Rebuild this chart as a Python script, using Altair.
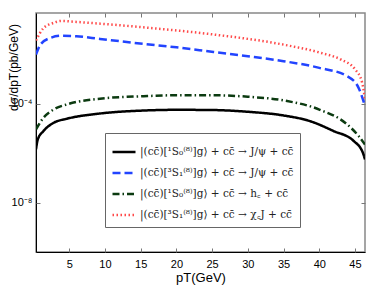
import altair as alt
import pandas as pd

labels = [
    "|(cc̄)[¹S₀⁽⁸⁾]g⟩ + cc̄ → J/ψ + cc̄",
    "|(cc̄)[³S₁⁽⁸⁾]g⟩ + cc̄ → J/ψ + cc̄",
    "|(cc̄)[¹S₀⁽⁸⁾]g⟩ + cc̄ → h꜀ + cc̄",
    "|(cc̄)[³S₁⁽⁸⁾]g⟩ + cc̄ → χ꜀J + cc̄",
]
colors = ["#000000", "#2244ff", "#0b3a10", "#ff4a4a"]
dashes = [[1, 0], [8, 4], [7, 3, 1.5, 3], [1.5, 2.5]]
widths = [2.5, 2.5, 2.5, 1.5]

black_x = [0.35, 0.6, 1.4, 2.8, 4.7, 9.3, 15.4, 20, 25.2, 30, 35, 38.7, 42, 44.8, 46.1, 46.4]
black_y = [1.45e-6, 3.63e-6, 7.94e-6, 1.70e-5, 2.51e-5, 4.07e-5, 5.37e-5, 5.75e-5, 5.62e-5,
           4.79e-5, 3.39e-5, 2.0e-5, 7.94e-6, 3.16e-6, 1.05e-6, 5.62e-7]
blue_x = [0.35, 0.97, 2.35, 3.9, 6, 9.3, 15.4, 20, 25.2, 30, 35, 40, 43.9, 45.5, 46.4]
blue_y = [0.01, 0.0251, 0.0468, 0.0575, 0.055, 0.0427, 0.0269, 0.0195, 0.0126, 0.00851,
          0.00537, 0.00288, 0.00132, 0.000447, 8.13e-5]
green_x = [0.35, 1.4, 2.8, 4.7, 9.3, 15.4, 20, 25.2, 30, 35, 40, 43.9, 45.5, 46.4]
green_y = [9.33e-6, 2.75e-5, 5.89e-5, 9.55e-5, 1.62e-4, 2.04e-4, 2.24e-4, 2.24e-4, 1.95e-4,
           1.38e-4, 5.89e-5, 1.48e-5, 5.01e-6, 2.24e-6]
red_x = [0.35, 1.4, 2.8, 3.9, 6, 9.3, 15.4, 25.2, 35, 40.3, 43, 45, 46, 46.4]
red_y = [0.0372, 0.1175, 0.1905, 0.229, 0.209, 0.178, 0.126, 0.0646, 0.0251, 0.01148,
         0.00631, 0.00251, 0.000724, 0.000158]

rows = []
for lab, xs, ys in zip(labels, [black_x, blue_x, green_x, red_x], [black_y, blue_y, green_y, red_y]):
    for i, (a, b) in enumerate(zip(xs, ys)):
        rows.append({"s": lab, "x": a, "y": b, "i": i})
df = pd.DataFrame(rows)

W, H = 329, 239
xs = alt.Scale(domain=[0.35, 46.4], nice=False, zero=False)
ys = alt.Scale(type="log", domain=[1e-10, 0.48], nice=False)
xt = [5, 10, 15, 20, 25, 30, 35, 40, 45]
yt = [1e-4, 1e-8]

base = alt.Chart(df)

lines = base.mark_line(interpolate="monotone", clip=True).encode(
    x=alt.X("x:Q", scale=xs, axis=alt.Axis(
        values=xt, ticks=False, grid=False, domainColor="#000", labelFont="Liberation Sans",
        labelFontSize=11, labelColor="#000", labelPadding=6, title="pT(GeV)",
        titleFont="Liberation Sans", titleFontSize=13, titleFontWeight="normal", titlePadding=2)),
    y=alt.Y("y:Q", scale=ys, axis=alt.Axis(
        values=yt, ticks=False, grid=False, domainColor="#000", labelFont="Liberation Sans",
        labelFontSize=11, labelColor="#000", labelPadding=4,
        labelExpr="datum.value < 1e-6 ? '10⁻⁸' : '10⁻⁴'",
        title="dσ/dpT(pb/GeV)", titleFont="Liberation Sans", titleFontSize=12,
        titleFontWeight="normal", titleY=54, titleX=-16, titleBaseline="bottom")),
    color=alt.Color("s:N", scale=alt.Scale(domain=labels, range=colors), legend=alt.Legend(
        orient="none", legendX=69, legendY=120, title=None, fillColor="white",
        strokeColor="#666", padding=6, symbolType="stroke", symbolSize=529,
        symbolStrokeWidth=2.5, labelFont="DejaVu Serif", labelFontSize=10.5, labelColor="#222",
        rowPadding=2, labelLimit=400, labelOffset=3)),
    strokeDash=alt.StrokeDash("s:N", scale=alt.Scale(domain=labels, range=dashes), legend=None),
    strokeWidth=alt.StrokeWidth("s:N", scale=alt.Scale(domain=labels, range=widths), legend=None),
    order="i:Q",
    detail="s:N",
)

tickstyle = dict(labels=False, grid=False, domain=False, tickSize=4, tickColor="#777",
                 title=None)

ticks1 = base.mark_line(opacity=0).encode(
    x=alt.X("x:Q", scale=xs, axis=alt.Axis(orient="top", offset=-H, values=xt, **tickstyle)),
    y=alt.Y("y:Q", scale=ys, axis=alt.Axis(orient="right", offset=-W, values=yt, **tickstyle)),
    detail="s:N",
)
ticks2 = base.mark_line(opacity=0).encode(
    x=alt.X("x:Q", scale=xs, axis=alt.Axis(orient="bottom", offset=-H, values=xt, **tickstyle)),
    y=alt.Y("y:Q", scale=ys, axis=alt.Axis(orient="left", offset=-W, values=yt, **tickstyle)),
    detail="s:N",
)

chart = alt.layer(lines, ticks1, ticks2).resolve_axis(x="independent", y="independent").properties(
    width=W, height=H, autosize=alt.AutoSizeParams(type="none"),
    padding={"left": 28, "top": 5, "right": 1, "bottom": 34},
).configure_view(stroke="#888", strokeWidth=1.5)

chart.save("out.html", embed_options={"renderer": "svg", "actions": False})
